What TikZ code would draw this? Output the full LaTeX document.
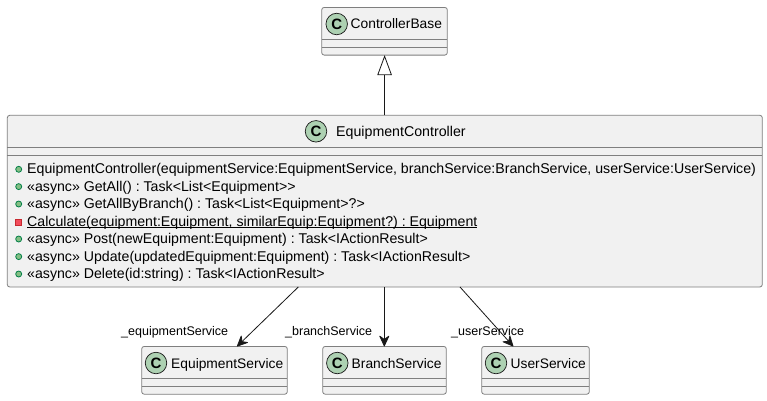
\documentclass[tikz,border=0pt]{standalone}
\usepackage{fontspec}
\setmainfont{Liberation Sans}
\usetikzlibrary{arrows.meta}
\definecolor{boxfill}{HTML}{F1F1F1}
\definecolor{boxline}{HTML}{7F7F7F}
\definecolor{inkline}{HTML}{181818}
\definecolor{spotfill}{HTML}{ADD1B2}
\definecolor{pubfill}{HTML}{84BE84}
\definecolor{publine}{HTML}{038048}
\definecolor{privfill}{HTML}{F24D5C}
\definecolor{privline}{HTML}{C82930}
\tikzset{
  x=1pt,y=-1pt,
  classbox/.style={draw=boxline,fill=boxfill,rounded corners=2.5pt,line width=0.8pt,anchor=north west,inner sep=0pt,outer sep=0pt},
  divider/.style={draw=boxline,line width=0.8pt},
  spot/.style={circle,draw=inkline,fill=spotfill,line width=0.7pt,minimum size=21.5pt,inner sep=0pt,font=\fontsize{15}{15}\selectfont\bfseries},
  classname/.style={anchor=base west,inner sep=0pt,font=\fontsize{13.8}{14}\selectfont\frenchspacing,text=black},
  membertext/.style={anchor=base west,inner sep=0pt,font=\fontsize{14.16}{14}\selectfont\frenchspacing,text=black},
  rolelabel/.style={anchor=base west,inner sep=0pt,font=\fontsize{12.5}{12}\selectfont\frenchspacing,text=black},
  pubicon/.style={circle,draw=publine,fill=pubfill,line width=0.8pt,minimum size=6pt,inner sep=0pt},
  privicon/.style={rectangle,draw=privline,fill=privfill,line width=0.8pt,minimum size=6pt,inner sep=0pt},
  assoc/.style={draw=inkline,line width=0.8pt,-{Stealth[length=12pt,width=11pt,inset=4pt,round]}},
  inherit/.style={draw=inkline,line width=0.8pt,-{Triangle[open,length=20pt,width=14.5pt,fill=white]}},
}
\newcommand{\classbody}[6]{% name, x, y, w, h, div1
  \node[classbox,minimum width=#4pt,minimum height=#5pt] (#1) at (#2,#3) {};
  \draw[divider] (#1.north west) ++(0,#6) -- ++(#4,0);
  \draw[divider] (#1.north west) ++(0,#6+8) -- ++(#4,0);
}
\begin{document}
\begin{tikzpicture}
\useasboundingbox (0,0) rectangle (767,400);
\fill[white] (0,0) rectangle (767,400);
% classes
\classbody{cb}{321.7}{7.4}{125.6}{47.7}{32}
\node[spot] (cbs) at (336.7,24) {C};
\node[classname] (cbn) at (350.5,28.8) {ControllerBase};

\classbody{ec}{7.3}{115.3}{755}{171.7}{32}
\node[spot] (ecs) at (316,131.3) {C};
\node[classname,font=\fontsize{14.2}{14}\selectfont] (ecn) at (336,136.2) {EquipmentController};

\classbody{es}{141.7}{346.4}{145.6}{47.8}{32}
\node[spot] (ess) at (156,363) {C};
\node[classname] (esn) at (171,368) {EquipmentService};

\classbody{bs}{322.7}{346.4}{123.6}{47.8}{32}
\node[spot] (bss) at (337.3,363) {C};
\node[classname] (bsn) at (351.5,368) {BranchService};

\classbody{us}{481.7}{346.4}{107.6}{47.8}{32}
\node[spot] (uss) at (496,363) {C};
\node[classname] (usn) at (510.5,368) {UserService};

% members
\node[pubicon] (m1i) at (18.7,169.3) {};
\node[membertext] (m1) at (27,173.6) {EquipmentController(equipmentService:EquipmentService, branchService:BranchService, userService:UserService)};
\node[pubicon] (m2i) at (18.7,186.6) {};
\node[membertext] (m2) at (27,191) {«async» GetAll() : Task<List<Equipment>{}>};
\node[pubicon] (m3i) at (18.7,204) {};
\node[membertext] (m3) at (27,208.5) {«async» GetAllByBranch() : Task<List<Equipment>?>};
\node[privicon] (m4i) at (18.7,222) {};
\node[membertext] (m4) at (27,226) {$\underline{\smash{\hbox{Calculate(equipment:Equipment, similarEquip:Equipment?) : Equipment}}}$};
\node[pubicon] (m5i) at (18.7,239) {};
\node[membertext] (m5) at (27,243.5) {«async» Post(newEquipment:Equipment) : Task<IActionResult>};
\node[pubicon] (m6i) at (18.7,256.6) {};
\node[membertext] (m6) at (27,261) {«async» Update(updatedEquipment:Equipment) : Task<IActionResult>};
\node[pubicon] (m7i) at (18.7,274) {};
\node[membertext] (m7) at (27,278.5) {«async» Delete(id:string) : Task<IActionResult>};

% connectors
\draw[inherit] ([xshift=-0.2pt]ec.north) -- ([xshift=-0.2pt]ec.north |- cb.south);
\draw[assoc] ([xshift=-86.5pt]ec.south) -- ([xshift=22.5pt]es.north);
\draw[assoc] ([xshift=-0.5pt]ec.south) -- ([xshift=-0.2pt]bs.north);
\draw[assoc] ([xshift=75.2pt]ec.south) -- ([xshift=-22.2pt]us.north);

% role labels
\node[rolelabel] (l1) at (121,335) {\_equipmentService};
\node[rolelabel] (l2) at (285,335) {\_branchService};
\node[rolelabel] (l3) at (451,335) {\_userService};
\end{tikzpicture}
\end{document}
